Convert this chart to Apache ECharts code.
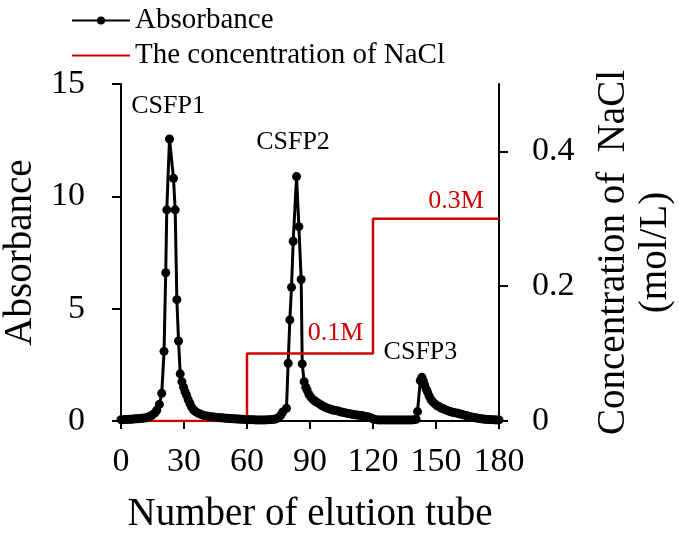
<!DOCTYPE html>
<html>
<head>
<meta charset="utf-8">
<script src="https://cdn.jsdelivr.net/npm/echarts@6/dist/echarts.min.js"></script>
<style>html,body{margin:0;padding:0;background:#fff;}#chart{width:679px;height:542px;}</style>
</head>
<body>
<div id="chart"></div>
<script>
// ---- data ----
var seriesNames = ['Absorbance', 'The concentration of NaCl'];
var xTicks = [0, 30, 60, 90, 120, 150, 180];
var concTicks = [0, 0.2, 0.4];
// Absorbance readings: [tube number, absorbance]
var absorbancePoints = [
  [0,0.06],[1,0.06],[2,0.07],[3,0.07],[4,0.08],[5,0.08],[6,0.09],[7,0.1],[8,0.1],[9,0.11],
  [10,0.12],[11,0.13],[12,0.15],[13,0.18],[14,0.22],[15,0.27],[16,0.35],[17,0.48],
  [18.3,0.74],[19.4,1.23],[20.5,3.1],[21.3,6.6],[21.8,9.4],[23.1,12.55],[25.0,10.8],[25.8,9.4],
  [26.6,5.4],[27.4,3.56],[28.2,2.1],[29.0,1.75],[29.8,1.5],[30.5,1.3],[31.2,1.15],[32.0,0.95],
  [32.8,0.78],[33.6,0.62],[34.5,0.5],[35.5,0.42],[36.5,0.36],[37.5,0.32],[38.5,0.28],[39.5,0.25],
  [41,0.22],[42,0.2],[43,0.19],[44,0.18],[45,0.17],[46,0.16],[47,0.15],[48,0.14],[49,0.13],
  [50,0.12],[51,0.12],[52,0.11],[53,0.1],[54,0.1],[55,0.09],[56,0.09],[57,0.08],[58,0.08],
  [59,0.07],[60,0.07],[61,0.06],[62,0.06],[63,0.06],[64,0.05],[65,0.05],[66,0.05],[67,0.05],
  [68,0.05],[69,0.05],[70,0.06],[71,0.06],[72,0.07],[73,0.08],[74,0.1],[75,0.15],[76,0.25],[77,0.4],
  [78.8,0.57],[79.6,2.57],[80.4,4.5],[81.2,5.95],[82.0,8.0],[83.6,10.88],[84.7,8.65],[85.8,6.3],
  [86.3,2.54],[87.2,1.75],[88.0,1.5],[88.6,1.38],[89.5,1.18],[90.5,1.05],[91.5,0.95],[92.5,0.88],
  [93.5,0.82],[94.5,0.76],[95.5,0.7],[96.6,0.64],[97.5,0.6],[98.5,0.56],[99.5,0.53],[100.5,0.5],
  [101.5,0.48],[102.5,0.46],[103.5,0.44],[104.5,0.41],[105.5,0.39],[106.5,0.37],[107.5,0.35],
  [108.5,0.33],[109.5,0.31],[110.5,0.29],[111.5,0.28],[112.5,0.27],[113.5,0.25],[114.5,0.24],
  [115.5,0.22],[116.5,0.2],[117.5,0.19],[118.5,0.16],[119.5,0.12],[120.5,0.08],
  [121.5,0.06],[122.5,0.05],[123.5,0.05],[124.5,0.05],[125.5,0.05],[126.5,0.05],[127.5,0.05],
  [128.5,0.05],[129.5,0.05],[130.5,0.05],[131.5,0.05],[132.5,0.05],[133.5,0.05],[134.5,0.05],
  [135.5,0.05],[136.5,0.05],[137.5,0.05],[138.5,0.05],[139.5,0.06],[140.5,0.08],
  [141.2,0.42],[142.5,1.8],[143.3,1.95],[144.0,1.78],[144.6,1.6],[145.3,1.42],[145.9,1.3],
  [146.7,1.12],[147.6,0.95],[148.5,0.85],[149.5,0.76],[150.5,0.68],[151.4,0.64],[152.5,0.58],
  [153.5,0.54],[154.5,0.5],[155.5,0.46],[156.5,0.43],[157.5,0.4],[158.5,0.38],[159.5,0.36],
  [160.5,0.34],[161.5,0.31],[162.5,0.29],[163.5,0.26],[164.5,0.24],[165.5,0.21],[166.5,0.19],
  [167.5,0.17],[168.5,0.15],[169.5,0.13],[170.5,0.11],[171.5,0.1],[172.5,0.09],[173.5,0.08],
  [174.5,0.07],[175.5,0.07],[176.5,0.06],[177.5,0.06],[178.5,0.05],[179.5,0.05],[180,0.05]
];
// NaCl step gradient
var naclTubes = [0, 60, 120, 180];
var naclConc = [0, 0.1, 0.3, 0.3];
// annotations: [label, tube, value]
var peakLabels = [['CSFP1', 22.4, 14.0], ['CSFP2', 81.9, 12.4], ['CSFP3', 142.6, 3.07]];
var concLabels = [['0.1M', 102.2, 0.13], ['0.3M', 159.5, 0.326]];

// ---- chart ----
var FONT = "'Liberation Serif','Times New Roman',serif";
var RED = '#d00000';
var chart = echarts.init(document.getElementById('chart'), null, {renderer: 'canvas'});
var naclData = naclTubes.map(function (t, i) { return [t, naclConc[i]]; });
function mp(list, color) {
  return {
    symbol: 'circle', symbolSize: 1, itemStyle: {color: 'rgba(0,0,0,0)'},
    label: {show: true, position: 'inside', formatter: '{b}', color: color, fontSize: 26, fontFamily: FONT},
    data: list.map(function (d) { return {name: d[0], coord: [d[1], d[2]]}; })
  };
}
var option = {
  animation: false,
  backgroundColor: '#fff',
  textStyle: {fontFamily: FONT, color: '#000'},
  legend: {
    orient: 'vertical', left: 66, top: 1, itemWidth: 58, itemHeight: 10, itemGap: 6,
    textStyle: {fontSize: 29, color: '#000', fontFamily: FONT},
    data: [
      {name: seriesNames[0]},
      {name: seriesNames[1], itemStyle: {opacity: 0, borderWidth: 0}}
    ]
  },
  grid: {left: 121, right: 180, top: 84, bottom: 121, containLabel: false, outerBoundsMode: 'none'},
  xAxis: {
    type: 'value', min: xTicks[0], max: xTicks[xTicks.length - 1], interval: 30,
    axisLine: {lineStyle: {color: '#000', width: 2}},
    axisTick: {length: 8, lineStyle: {color: '#000', width: 2}},
    splitLine: {show: false},
    axisLabel: {fontSize: 34, color: '#000', margin: 24, fontFamily: FONT},
    name: 'Number of elution tube', nameLocation: 'middle', nameGap: 74,
    nameTextStyle: {fontSize: 39, color: '#000', fontFamily: FONT}
  },
  yAxis: [{
    type: 'value', min: 0, max: 15, interval: 5, position: 'left',
    axisLine: {show: true, lineStyle: {color: '#000', width: 2}},
    axisTick: {show: true, length: 9, lineStyle: {color: '#000', width: 2}},
    splitLine: {show: false},
    axisLabel: {fontSize: 34, color: '#000', margin: 36, fontFamily: FONT},
    name: 'Absorbance', nameLocation: 'middle', nameGap: 72,
    nameTextStyle: {fontSize: 39, color: '#000', fontFamily: FONT}
  }, {
    type: 'value', min: 0, max: 0.5, position: 'right',
    axisLine: {show: true, lineStyle: {color: '#000', width: 2}},
    axisTick: {show: true, length: 9, customValues: concTicks, lineStyle: {color: '#000', width: 2}},
    splitLine: {show: false},
    axisLabel: {fontSize: 34, color: '#000', margin: 33, customValues: concTicks, fontFamily: FONT},
    name: 'Concentration of  NaCl\n(mol/L)', nameLocation: 'middle', nameGap: 94,
    nameTextStyle: {fontSize: 39, color: '#000', fontFamily: FONT, lineHeight: 42}
  }],
  series: [{
    name: seriesNames[0], type: 'line', xAxisIndex: 0, yAxisIndex: 0,
    data: absorbancePoints, symbol: 'circle', symbolSize: 9, showSymbol: true,
    lineStyle: {color: '#000', width: 3}, itemStyle: {color: '#000'},
    markPoint: mp(peakLabels, '#000')
  }, {
    name: seriesNames[1], type: 'line', xAxisIndex: 0, yAxisIndex: 1,
    data: naclData, step: 'end', symbol: 'none',
    lineStyle: {color: RED, width: 2.5}, itemStyle: {color: RED},
    markPoint: mp(concLabels, RED)
  }]
};
chart.setOption(option);
</script>
</body>
</html>
